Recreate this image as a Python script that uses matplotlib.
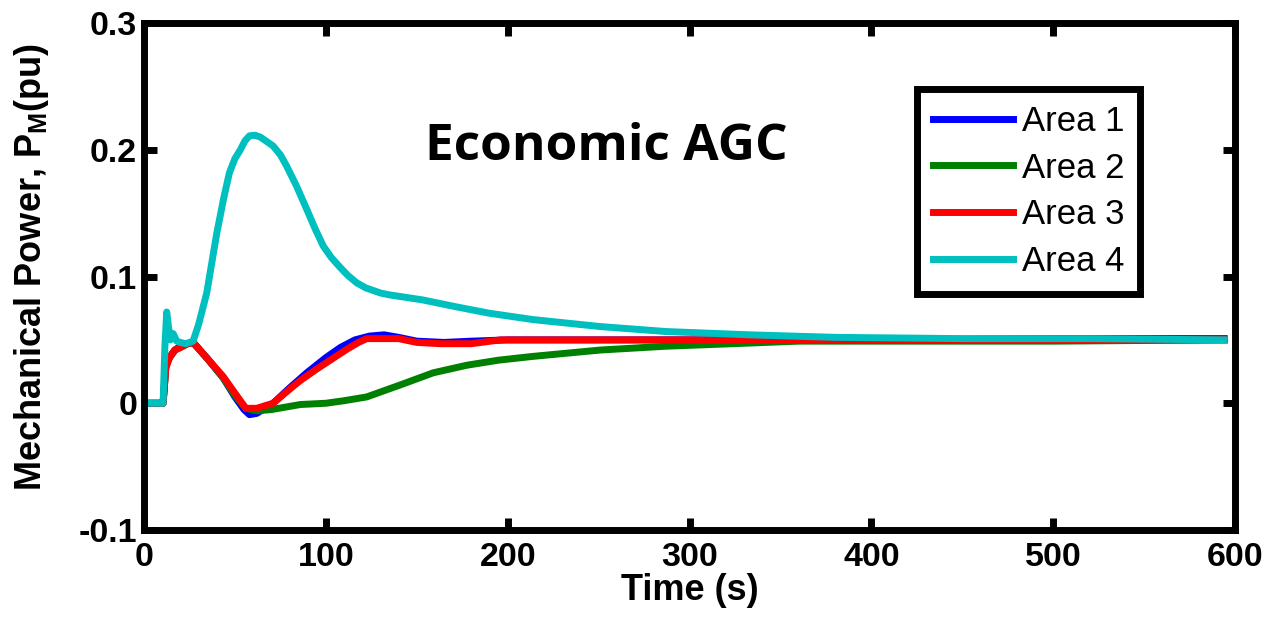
import matplotlib
matplotlib.use("Agg")
import matplotlib.pyplot as plt

# ---- data ----
t1 = [0, 10.5, 12, 14, 17, 20, 24, 27, 35, 43.6, 50, 55, 58, 62, 71, 80, 89.5, 100, 108, 116, 124, 132, 140, 150, 165, 180, 200, 250, 300, 400, 500, 594]
p1 = [0, 0, 0.03, 0.036, 0.042, 0.045, 0.047, 0.048, 0.035, 0.02, 0.005, -0.005, -0.009, -0.008, 0.0, 0.012, 0.024, 0.036, 0.044, 0.05, 0.053, 0.054, 0.052, 0.049, 0.048, 0.049, 0.05, 0.05, 0.05, 0.05, 0.051, 0.051]

t2 = [0, 10.5, 12, 14, 17, 20, 24, 27, 35, 43.6, 50, 56, 62, 70, 86, 100, 110, 122.5, 141, 159, 177.5, 195, 214, 251, 287, 324, 360, 420, 500, 594]
p2 = [0, 0, 0.028, 0.036, 0.042, 0.044, 0.047, 0.048, 0.035, 0.02, 0.006, -0.004, -0.006, -0.005, -0.001, 0.0, 0.002, 0.005, 0.0145, 0.024, 0.030, 0.034, 0.037, 0.042, 0.045, 0.047, 0.049, 0.049, 0.049, 0.050]

t3 = [0, 10.5, 12, 14, 17, 20, 24, 27, 35, 43.6, 50, 56, 62, 71, 80, 86, 95, 104, 112, 118, 122.5, 140, 150, 163, 180, 196, 250, 300, 400, 500, 594]
p3 = [0, 0, 0.028, 0.036, 0.042, 0.044, 0.047, 0.048, 0.035, 0.021, 0.008, -0.004, -0.004, 0.0, 0.011, 0.018, 0.027, 0.0355, 0.043, 0.048, 0.051, 0.051, 0.048, 0.047, 0.047, 0.05, 0.05, 0.05, 0.05, 0.05, 0.05]

t4 = [0, 10.5, 11.5, 12.5, 13.5, 14.5, 16, 18, 20, 23, 27, 30, 34.5, 40, 44, 47, 50, 53, 55.5, 58, 61, 64, 67, 71, 75, 78.5, 84, 89.5, 94, 98.6, 103, 108, 112, 117, 122, 126, 130, 135, 153, 172, 190, 214, 251, 287, 333, 380, 450, 520, 594]
p4 = [0, 0, 0.045, 0.072, 0.06, 0.05, 0.055, 0.049, 0.048, 0.047, 0.049, 0.062, 0.087, 0.134, 0.163, 0.182, 0.193, 0.2, 0.207, 0.211, 0.2115, 0.21, 0.207, 0.203, 0.196, 0.187, 0.171, 0.153, 0.138, 0.124, 0.115, 0.107, 0.101, 0.095, 0.091, 0.089, 0.087, 0.0855, 0.0816, 0.076, 0.071, 0.066, 0.0605, 0.0566, 0.054, 0.052, 0.051, 0.051, 0.050]

labels = ["Area 1", "Area 2", "Area 3", "Area 4"]
colors = ["#0000ff", "#008000", "#ff0000", "#00bfbf"]

xticks = [0, 100, 200, 300, 400, 500, 600]
yticks = [-0.1, 0, 0.1, 0.2, 0.3]
yticklabels = ["-0.1", "0", "0.1", "0.2", "0.3"]

# ---- figure ----
plt.rcParams['font.family'] = ['Liberation Sans', 'DejaVu Sans']
plt.rcParams['mathtext.fontset'] = 'custom'
plt.rcParams['mathtext.bf'] = 'Liberation Sans:bold'
plt.rcParams['mathtext.rm'] = 'Liberation Sans'

fig = plt.figure(figsize=(12.72, 6.23), dpi=100)
ax = fig.add_axes([0.1132, 0.1493, 0.8578, 0.8137])

for t, p, c, lab in zip([t1, t2, t3, t4], [p1, p2, p3, p4], colors, labels):
    ax.plot(t, p, color=c, lw=5, label=lab, solid_joinstyle='round')

ax.set_xlim(0, 600)
ax.set_ylim(-0.1, 0.3)
ax.set_xticks(xticks)
ax.set_xticklabels([str(v) for v in xticks])
ax.set_yticks(yticks)
ax.set_yticklabels(yticklabels)

for s in ax.spines.values():
    s.set_linewidth(5)
ax.tick_params(direction='in', length=9, width=5, top=True, right=True,
               labelsize=24.5)
ax.tick_params(axis='x', pad=9)
ax.tick_params(axis='y', pad=5)
for lbl in ax.get_xticklabels() + ax.get_yticklabels():
    lbl.set_fontweight('bold')

ax.set_xlabel("Time (s)", fontsize=26, fontweight='bold')
ax.set_ylabel(r"Mechanical Power, P$_\mathbf{M}$(pu)", fontsize=26,
              fontweight='bold')
ax.xaxis.set_label_coords(0.5, -0.085)
ax.yaxis.set_label_coords(-0.085, 0.518)

ax.text(0.4235, 0.730, "Economic AGC", transform=ax.transAxes,
        fontsize=37, fontweight='bold', family=['Open Sans', 'DejaVu Sans'],
        ha='center', va='baseline')

leg = ax.legend(loc='upper right', bbox_to_anchor=(0.9129, 0.8698),
                fontsize=25, frameon=True, fancybox=False, handlelength=2.3,
                handletextpad=0.26, labelspacing=0.4, borderpad=0.45,
                borderaxespad=0, framealpha=1)
leg.get_frame().set_edgecolor('black')
leg.get_frame().set_linewidth(5)
for h in leg.get_lines():
    h.set_linewidth(5)

fig.savefig("out.png", dpi=100)
